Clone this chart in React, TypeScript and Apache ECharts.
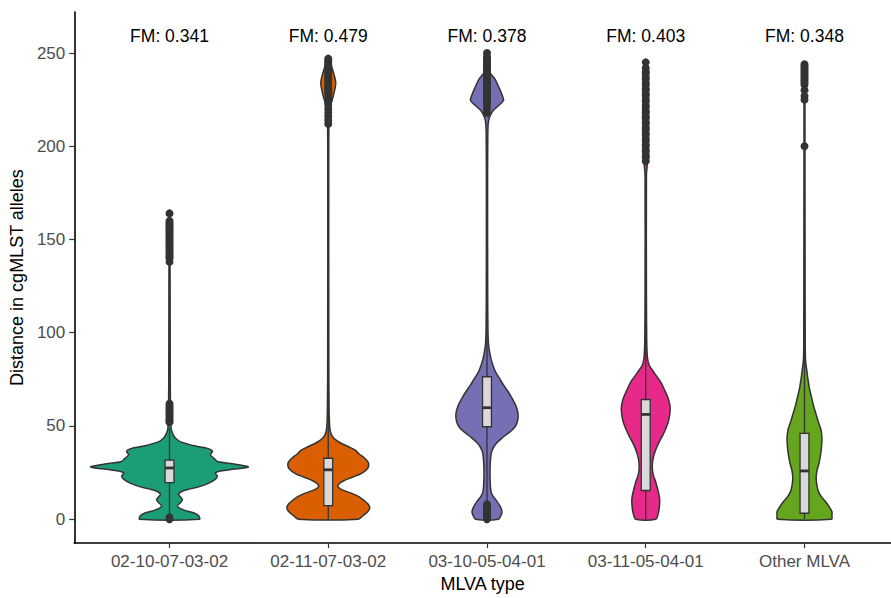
import { useEffect, useRef } from 'react';
import * as echarts from 'echarts';

const categories = ['02-10-07-03-02', '02-11-07-03-02', '03-10-05-04-01', '03-11-05-04-01', 'Other MLVA'];
const fmValues = ['0.341', '0.479', '0.378', '0.403', '0.348'];
const fmLabelY = 259;

// violin profiles: [value, relative density (half-width)]
const violinA = [
  [0, 30], [2, 29], [3.5, 24], [5, 14], [7, 8], [9, 11], [10.5, 13], [12, 11], [13.5, 9], [15.5, 15],
  [17.5, 30], [19.5, 40], [21.5, 46], [23, 48], [25, 46], [26.5, 60], [28, 79], [29.5, 66], [31, 48],
  [32.5, 45], [34.5, 41], [36.5, 43], [38, 38], [39, 28], [41.5, 11], [43.5, 6], [45, 4], [48, 1.8],
  [55, 1.2], [70, 0.8], [120, 0.6], [164, 0.3],
];
const violinB = [
  [0, 30], [2, 35], [4, 39.5], [6, 41.5], [8, 40], [10, 36], [12, 31], [14, 23], [16, 13], [17.5, 9.5],
  [19, 11], [20.5, 15], [22.5, 24], [24.5, 33], [27, 39], [29, 40.5], [31, 39.5], [33, 36], [35, 31],
  [37, 27], [39, 20], [41, 12], [43, 6.5], [45, 3.5], [48, 1.8], [55, 1], [80, 0.6], [200, 0.5],
  [216, 1], [222, 2.5], [228, 5.5], [234, 7.5], [240, 5], [244, 2.5], [247, 0.5],
];
const violinC = [
  [0, 11.5], [2, 14], [4, 15], [6, 14], [8, 12], [10, 9.5], [12, 6.5], [14, 4.5], [17, 3.5], [25, 3],
  [32, 3.5], [36, 4.5], [39, 7], [41, 10], [43.5, 15], [46, 21], [48.5, 26.5], [51, 29.5], [54, 31],
  [57, 31], [60, 29.5], [62.5, 27.5], [65, 25], [68.5, 21], [72, 16.5], [75.5, 12.5], [79, 8.5],
  [82.5, 6], [86, 4], [90, 2.5], [94, 1.5], [100, 1], [120, 0.7], [180, 0.6], [205, 0.8], [212, 1.2],
  [215.5, 2.5], [219, 6], [222, 12], [224.5, 16.5], [227, 15.5], [231.5, 12], [236, 8], [239.5, 3],
  [244, 1.5], [250, 0.3],
];
const violinD = [
  [0, 10], [3, 12.5], [6, 13.5], [10, 14], [13, 13.3], [17, 11.5], [20, 10], [23, 8], [26, 6.8],
  [30, 6.7], [34, 8], [38, 10.5], [41.5, 13.5], [45, 17], [48.5, 20], [53, 23], [59, 24.5], [64, 23],
  [70, 18.3], [74, 14.5], [77, 10.5], [80, 6.5], [82.5, 3.5], [85, 2.2], [88, 1.5], [95, 1], [120, 0.7],
  [185, 0.7], [190, 1.5], [200, 1.5], [245, 0.4],
];
const violinE = [
  [0, 27], [2, 27.5], [4, 27.5], [6.5, 25], [9.5, 21], [12, 17], [14.8, 14], [18, 12.5], [22, 11.7],
  [26, 12.5], [30, 14.5], [36, 16.5], [43, 17.5], [48, 16.5], [52, 14], [56.5, 11.5], [61, 9],
  [65.5, 7], [70, 5], [75, 3.5], [79, 2.5], [86, 1], [100, 0.7], [200, 0.5], [244, 0.3],
];

const q1 = [19.6, 7.3, 49.6, 15.4, 3.2];
const medians = [27.5, 26.5, 59.8, 56.2, 25.9];
const q3 = [31.7, 32.7, 76.4, 64.2, 46];
const whiskerLow = [2, 0, 9, 0, 0];
const whiskerHigh = [49, 70, 116, 137, 110];

const outliersA = [0, 1, 52, 53, 54, 55, 56, 57, 58, 59, 60, 61, 62, 138, 140, 141, 142, 143, 144, 145,
  146, 147, 148, 149, 150, 151, 152, 153, 154, 155, 156, 157, 158, 159, 160, 164];
const outliersB = [212, 214, 216, 218, 220, 222, 224, 226, 228, 229, 230, 231, 232, 233, 234, 235, 236,
  237, 238, 239, 240, 241, 242, 243, 244, 245, 246, 247];
const outliersC = [0, 1, 2, 3, 4, 5, 6, 7, 8, 218, 220, 222, 224, 225, 226, 227, 228, 229, 230, 231,
  232, 233, 234, 235, 236, 237, 238, 239, 240, 241, 242, 243, 244, 245, 246, 247, 248, 250];
const outliersD = [192, 194, 195, 197, 198, 200, 201, 203, 204, 206, 207, 209, 210, 212, 213, 215, 216,
  218, 219, 221, 222, 224, 225, 227, 228, 230, 231, 233, 234, 236, 237, 239, 240, 242, 245];
const outliersE = [200, 225, 227, 230, 233, 234, 235, 236, 237, 238, 239, 240, 241, 242, 243, 244];

const yTicks = [0, 50, 100, 150, 200, 250];

const violins = [violinA, violinB, violinC, violinD, violinE];
const outliers = [outliersA, outliersB, outliersC, outliersD, outliersE];
const palette = ['#1B9E77', '#D95F02', '#7570B3', '#E7298A', '#66A61E'];
const FONT = '"Liberation Sans", Arial, Helvetica, sans-serif';

export default function App() {
  const ref = useRef<HTMLDivElement>(null);
  useEffect(() => {
    if (!ref.current) return;
    const chart = echarts.init(ref.current, null, { renderer: 'svg' });
    const W = 1 / 159; // density unit -> category units
    const BOX = 0.028;
    chart.setOption({
      animation: false,
      backgroundColor: '#ffffff',
      grid: { left: 73, right: 0, top: 12, bottom: 51.3 },
      xAxis: {
        type: 'value',
        min: -0.6,
        max: 4.545,
        splitLine: { show: false },
        axisLine: { show: true, onZero: false, lineStyle: { color: '#000', width: 1.6 } },
        axisTick: { show: true, customValues: [0, 1, 2, 3, 4], length: 5, lineStyle: { color: '#333', width: 1.2 } },
        axisLabel: {
          customValues: [0, 1, 2, 3, 4],
          formatter: (v: number) => categories[Math.round(v)] ?? '',
          color: '#4d4d4d', fontSize: 17, fontFamily: FONT, margin: 10,
        },
        name: 'MLVA type',
        nameLocation: 'middle',
        nameGap: 31,
        nameTextStyle: { color: '#000', fontSize: 18, fontFamily: FONT },
      },
      yAxis: {
        type: 'value',
        min: -12.8,
        max: 272,
        splitLine: { show: false },
        axisLine: { show: true, onZero: false, lineStyle: { color: '#000', width: 1.6 } },
        axisTick: { show: true, customValues: yTicks, length: 5, lineStyle: { color: '#333', width: 1.2 } },
        axisLabel: { customValues: yTicks, color: '#4d4d4d', fontSize: 17, fontFamily: FONT, margin: 9 },
        name: 'Distance in cgMLST alleles',
        nameLocation: 'middle',
        nameGap: 46,
        nameTextStyle: { color: '#000', fontSize: 18, fontFamily: FONT },
      },
      series: [
        {
          type: 'custom',
          clip: false,
          data: categories.map((_, i) => [i, medians[i]]),
          renderItem: (params: any, api: any) => {
            const i = params.dataIndex;
            const dens = violins[i];
            const left = dens.map(([v, d]) => api.coord([i - d * W, v]));
            const right = dens.slice().reverse().map(([v, d]) => api.coord([i + d * W, v]));
            const children: any[] = [];
            children.push({
              type: 'polygon',
              shape: { points: left.concat(right), smooth: 0.3 },
              style: { fill: palette[i], stroke: '#333', lineWidth: 1.5 },
            });
            const wl = api.coord([i, whiskerLow[i]]);
            const wh = api.coord([i, whiskerHigh[i]]);
            children.push({
              type: 'line',
              shape: { x1: wl[0], y1: wl[1], x2: wh[0], y2: wh[1] },
              style: { stroke: '#333', lineWidth: 1.3 },
            });
            const bTop = api.coord([i - BOX, q3[i]]);
            const bBot = api.coord([i + BOX, q1[i]]);
            children.push({
              type: 'rect',
              shape: { x: bTop[0], y: bTop[1], width: bBot[0] - bTop[0], height: bBot[1] - bTop[1] },
              style: { fill: '#d9d9d9', stroke: '#333', lineWidth: 1.3 },
            });
            const mL = api.coord([i - BOX, medians[i]]);
            const mR = api.coord([i + BOX, medians[i]]);
            children.push({
              type: 'line',
              shape: { x1: mL[0], y1: mL[1], x2: mR[0], y2: mR[1] },
              style: { stroke: '#333', lineWidth: 2.8 },
            });
            outliers[i].forEach((v) => {
              const p = api.coord([i, v]);
              children.push({
                type: 'circle',
                shape: { cx: p[0], cy: p[1], r: 4 },
                style: { fill: '#333' },
              });
            });
            const t = api.coord([i, fmLabelY]);
            children.push({
              type: 'text',
              style: {
                text: 'FM: ' + fmValues[i],
                x: t[0], y: t[1],
                align: 'center', verticalAlign: 'middle',
                fill: '#000', fontSize: 17.5, fontFamily: FONT,
              },
            });
            return { type: 'group', children };
          },
        },
      ],
    });
    return () => chart.dispose();
  }, []);
  return <div ref={ref} style={{ position: 'fixed', left: 0, top: 0, width: 891, height: 598 }} />;
}
